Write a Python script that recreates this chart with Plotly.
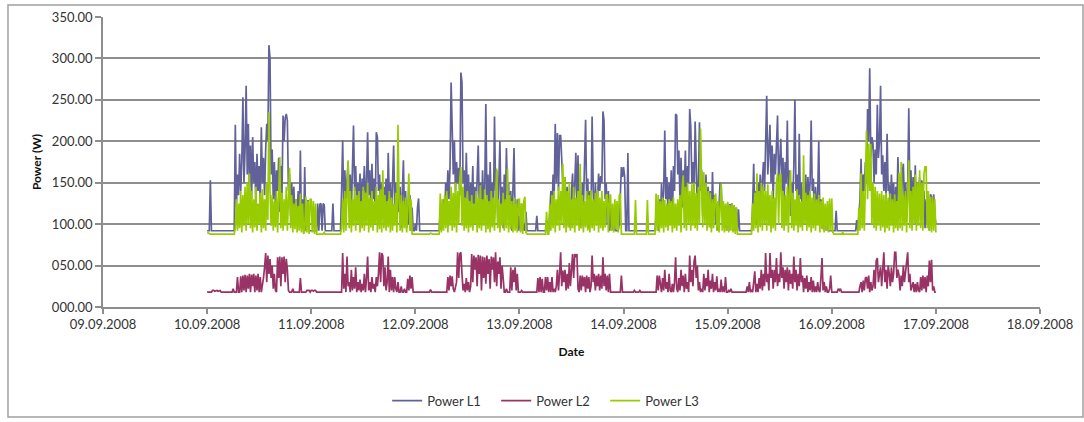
import pandas as pd
import plotly.graph_objects as go

# ---------------- data: 15-minute readings, one list per day and phase ----------------
DAY_STARTS = ["2008-09-10", "2008-09-11", "2008-09-12", "2008-09-13",
              "2008-09-14", "2008-09-15", "2008-09-16"]
SERIES_NAMES = ["Power L1", "Power L2", "Power L3"]
TICK_DATES = ["2008-09-09", "2008-09-10", "2008-09-11", "2008-09-12", "2008-09-13",
              "2008-09-14", "2008-09-15", "2008-09-16", "2008-09-17", "2008-09-18"]
Y_TICKS = [0, 50, 100, 150, 200, 250, 300, 350]

L1_D1 = [92, 92, 92, 153, 92, 92, 92, 92, 92, 92,
         92, 92, 92, 92, 92, 92, 92, 92, 92, 92,
         92, 92, 92, 92, 92, 92, 220, 120, 160, 135,
         185, 140, 175, 253, 150, 190, 267, 160, 221, 145,
         195, 130, 205, 150, 175, 120, 185, 140, 170, 125,
         217, 150, 180, 135, 190, 221, 200, 316, 300, 160,
         190, 130, 175, 120, 165, 140, 180, 115, 170, 130,
         231, 200, 228, 233, 225, 140, 160, 110, 150, 120,
         145, 100, 130, 115, 140, 105, 189, 95, 130, 92,
         169, 92, 110, 129, 92, 92]
L1_D2 = [92, 92, 92, 92, 92, 92, 125, 92, 124, 125,
         92, 125, 123, 92, 92, 92, 92, 92, 92, 92,
         125, 92, 92, 92, 92, 92, 92, 92, 140, 201,
         120, 165, 130, 150, 175, 125, 160, 115, 155, 219,
         140, 170, 120, 150, 130, 161, 110, 155, 140, 170,
         125, 150, 211, 135, 165, 120, 173, 130, 155, 115,
         211, 205, 140, 160, 120, 150, 110, 145, 125, 155,
         100, 186, 130, 150, 105, 140, 195, 120, 150, 100,
         135, 115, 145, 95, 130, 177, 110, 140, 95, 125,
         100, 135, 92, 120, 92, 92]
L1_D3 = [100, 92, 120, 131, 92, 92, 92, 92, 92, 92,
         92, 92, 92, 92, 92, 92, 92, 92, 92, 92,
         92, 92, 92, 120, 92, 110, 130, 105, 150, 125,
         165, 130, 170, 271, 201, 160, 201, 140, 175, 150,
         168, 135, 283, 271, 150, 165, 120, 186, 130, 160,
         110, 150, 125, 170, 100, 145, 115, 160, 195, 120,
         150, 100, 165, 125, 140, 245, 130, 160, 105, 175,
         120, 150, 110, 230, 140, 165, 100, 150, 200, 115,
         145, 95, 160, 120, 192, 135, 150, 100, 140, 92,
         130, 192, 110, 95, 130, 92]
L1_D4 = [110, 92, 125, 92, 100, 92, 115, 92, 92, 92,
         92, 92, 92, 92, 92, 92, 110, 92, 92, 92,
         92, 92, 92, 92, 92, 105, 92, 92, 125, 140,
         110, 160, 130, 221, 150, 210, 140, 207, 207, 180,
         150, 120, 157, 100, 145, 115, 130, 95, 140, 161,
         110, 150, 186, 125, 183, 100, 140, 95, 150, 120,
         165, 226, 130, 155, 95, 140, 110, 230, 145, 100,
         150, 120, 130, 161, 140, 158, 150, 236, 225, 130,
         150, 100, 140, 92, 120, 92, 110, 92, 100, 92,
         92, 92, 100, 150, 169, 157]
L1_D5 = [169, 157, 92, 92, 186, 92, 92, 92, 92, 92,
         92, 92, 92, 92, 92, 92, 92, 92, 92, 92,
         92, 92, 92, 92, 92, 92, 92, 92, 92, 92,
         110, 120, 92, 130, 100, 149, 120, 140, 213, 130,
         157, 110, 150, 125, 165, 100, 170, 140, 233, 231,
         160, 189, 130, 180, 120, 165, 140, 189, 125, 170,
         150, 239, 217, 150, 175, 130, 224, 160, 120, 150,
         223, 140, 165, 110, 150, 125, 160, 100, 145, 115,
         140, 95, 163, 110, 135, 100, 125, 92, 120, 150,
         148, 110, 125, 95, 122, 92]
L1_D6 = [125, 92, 124, 120, 125, 92, 122, 92, 120, 92,
         118, 92, 92, 92, 92, 92, 92, 92, 92, 92,
         92, 92, 92, 120, 173, 110, 140, 100, 150, 120,
         160, 130, 150, 175, 140, 190, 255, 160, 185, 220,
         150, 195, 130, 185, 160, 213, 231, 150, 190, 203,
         140, 180, 120, 175, 150, 225, 130, 165, 110, 150,
         125, 170, 250, 140, 160, 105, 209, 130, 150, 100,
         145, 120, 160, 110, 157, 130, 150, 225, 140, 155,
         100, 145, 120, 135, 200, 110, 130, 95, 125, 92,
         115, 92, 110, 92, 92, 92]
L1_D7 = [92, 92, 92, 92, 116, 92, 92, 92, 92, 92,
         92, 92, 92, 92, 92, 92, 92, 92, 92, 92,
         92, 92, 92, 105, 92, 110, 130, 179, 120, 160,
         140, 175, 150, 239, 200, 288, 180, 205, 197, 150,
         190, 160, 244, 180, 200, 267, 160, 183, 140, 175,
         130, 209, 140, 148, 115, 160, 125, 150, 100, 145,
         120, 181, 130, 157, 110, 160, 173, 125, 150, 105,
         145, 240, 135, 165, 110, 157, 120, 171, 100, 150,
         125, 156, 110, 153, 120, 140, 95, 130, 100, 125,
         92, 136, 133, 100, 136, 110, 100]

L2_D1 = [18, 18, 18, 18, 18, 20, 20, 19, 20, 20,
         19, 20, 20, 18, 18, 18, 18, 18, 18, 18,
         18, 18, 18, 18, 22, 18, 18, 18, 36, 18,
         18, 37, 18, 38, 20, 39, 18, 38, 22, 40,
         18, 39, 25, 40, 18, 38, 20, 40, 18, 36,
         18, 25, 35, 48, 65, 30, 62, 40, 58, 35,
         50, 22, 40, 20, 18, 60, 35, 61, 25, 60,
         40, 61, 30, 58, 45, 20, 18, 18, 18, 22,
         18, 18, 18, 18, 18, 18, 35, 18, 18, 18,
         18, 18, 20, 20, 20, 18]
L2_D2 = [20, 20, 19, 20, 20, 18, 18, 18, 18, 18,
         18, 18, 18, 18, 18, 18, 18, 18, 18, 18,
         18, 18, 18, 18, 18, 18, 18, 18, 18, 65,
         22, 40, 18, 61, 25, 30, 18, 45, 20, 36,
         22, 48, 18, 30, 20, 33, 18, 28, 20, 40,
         18, 35, 61, 20, 30, 18, 36, 22, 28, 18,
         36, 25, 40, 66, 30, 65, 62, 25, 48, 20,
         30, 61, 18, 45, 20, 36, 18, 36, 22, 18,
         30, 18, 18, 25, 18, 18, 22, 18, 18, 34,
         20, 38, 22, 36, 18, 18]
L2_D3 = [18, 18, 18, 18, 18, 18, 18, 18, 18, 18,
         18, 18, 18, 18, 21, 18, 18, 18, 18, 18,
         18, 18, 18, 18, 18, 18, 18, 18, 18, 18,
         36, 20, 38, 25, 37, 22, 18, 25, 30, 66,
         35, 64, 66, 40, 20, 28, 18, 35, 20, 30,
         18, 25, 64, 30, 62, 45, 60, 25, 63, 40,
         62, 20, 61, 35, 60, 28, 62, 40, 58, 22,
         61, 45, 60, 30, 66, 25, 55, 40, 60, 22,
         50, 35, 18, 18, 22, 18, 18, 18, 48, 20,
         45, 30, 48, 20, 40, 18]
L2_D4 = [18, 18, 20, 18, 18, 18, 18, 18, 18, 18,
         18, 18, 18, 18, 18, 18, 18, 35, 18, 36,
         18, 34, 18, 18, 36, 20, 36, 18, 30, 18,
         36, 18, 22, 18, 25, 45, 20, 40, 66, 25,
         44, 30, 45, 20, 40, 22, 53, 25, 50, 64,
         35, 64, 60, 64, 22, 18, 38, 20, 38, 25,
         36, 18, 38, 22, 36, 18, 25, 62, 30, 40,
         20, 38, 25, 40, 20, 38, 22, 60, 25, 40,
         20, 38, 18, 40, 18, 18, 18, 18, 18, 18,
         18, 18, 18, 18, 38, 18]
L2_D5 = [18, 18, 18, 18, 18, 18, 18, 18, 18, 18,
         20, 18, 18, 18, 18, 20, 18, 18, 18, 18,
         18, 18, 18, 18, 18, 18, 18, 18, 18, 18,
         18, 38, 20, 38, 25, 18, 35, 20, 45, 22,
         30, 18, 40, 20, 18, 28, 18, 30, 60, 22,
         18, 35, 20, 45, 25, 38, 18, 40, 22, 30,
         18, 62, 30, 45, 25, 55, 62, 35, 50, 20,
         30, 18, 22, 18, 40, 20, 35, 25, 45, 18,
         32, 22, 40, 18, 30, 20, 37, 18, 22, 18,
         33, 18, 25, 18, 36, 18]
L2_D6 = [18, 20, 18, 22, 18, 18, 18, 18, 18, 18,
         18, 18, 18, 18, 18, 18, 18, 18, 25, 18,
         30, 18, 20, 18, 30, 43, 18, 28, 18, 35,
         22, 45, 20, 40, 25, 65, 30, 40, 20, 65,
         35, 45, 22, 45, 30, 59, 25, 40, 30, 66,
         35, 48, 22, 45, 30, 48, 20, 45, 28, 40,
         22, 61, 30, 45, 20, 40, 25, 59, 30, 38,
         18, 35, 22, 38, 18, 30, 20, 36, 18, 32,
         18, 25, 18, 30, 20, 18, 35, 59, 20, 30,
         18, 25, 18, 18, 22, 38]
L2_D7 = [18, 18, 18, 18, 18, 18, 22, 20, 22, 18,
         18, 18, 18, 18, 18, 18, 18, 18, 18, 18,
         18, 18, 18, 18, 18, 18, 25, 30, 18, 32,
         20, 35, 36, 22, 38, 18, 30, 20, 25, 45,
         22, 56, 59, 30, 40, 48, 25, 45, 66, 30,
         45, 22, 50, 40, 25, 48, 30, 40, 66, 66,
         35, 45, 38, 20, 38, 25, 50, 30, 45, 52,
         66, 30, 40, 20, 25, 30, 18, 28, 18, 30,
         20, 18, 36, 20, 38, 22, 36, 18, 38, 25,
         56, 30, 57, 20, 25, 18, 18]

L3_D1 = [90, 89, 88, 88, 88, 88, 88, 88, 88, 88,
         88, 88, 88, 88, 88, 88, 88, 88, 88, 88,
         88, 88, 88, 88, 88, 88, 95, 130, 92, 125,
         95, 140, 90, 135, 98, 145, 92, 150, 100, 161,
         95, 140, 90, 130, 96, 145, 92, 125, 100, 138,
         90, 142, 95, 130, 92, 150, 105, 235, 140, 98,
         135, 92, 128, 96, 140, 90, 132, 181, 95, 138,
         92, 130, 98, 145, 92, 128, 168, 95, 135, 90,
         125, 94, 130, 90, 122, 92, 137, 90, 125, 88,
         92, 133, 90, 128, 88, 130]
L3_D2 = [130, 90, 128, 88, 125, 88, 88, 88, 88, 88,
         88, 88, 90, 88, 88, 88, 88, 88, 88, 88,
         88, 88, 88, 88, 88, 88, 88, 88, 95, 130,
         90, 140, 92, 135, 177, 95, 140, 90, 130, 98,
         145, 92, 135, 100, 140, 90, 128, 95, 145, 92,
         138, 98, 150, 90, 132, 96, 140, 92, 128, 100,
         145, 90, 135, 94, 142, 90, 165, 95, 135, 92,
         128, 96, 140, 90, 132, 92, 125, 98, 138, 90,
         220, 130, 92, 135, 90, 128, 95, 132, 90, 125,
         161, 92, 130, 88, 88, 88]
L3_D3 = [88, 88, 88, 88, 88, 88, 88, 88, 88, 88,
         88, 88, 88, 88, 89, 88, 88, 88, 88, 88,
         88, 88, 88, 137, 90, 130, 92, 135, 95, 140,
         90, 128, 98, 145, 92, 138, 96, 150, 90, 140,
         100, 155, 169, 98, 145, 92, 132, 95, 140, 90,
         128, 96, 135, 92, 125, 100, 140, 90, 132, 95,
         147, 92, 130, 98, 142, 90, 135, 94, 128, 90,
         140, 96, 132, 92, 138, 167, 95, 130, 90, 125,
         98, 138, 92, 130, 95, 167, 90, 135, 94, 128,
         90, 132, 92, 125, 90, 130]
L3_D4 = [130, 90, 125, 88, 128, 133, 90, 88, 88, 88,
         88, 88, 88, 88, 88, 88, 88, 88, 88, 88,
         88, 88, 88, 88, 88, 115, 88, 88, 125, 92,
         135, 95, 140, 90, 130, 98, 145, 92, 140, 100,
         173, 95, 157, 90, 140, 96, 150, 92, 130, 95,
         145, 90, 132, 98, 140, 92, 173, 95, 135, 90,
         128, 96, 140, 92, 135, 90, 141, 95, 130, 92,
         138, 98, 141, 90, 132, 95, 140, 92, 128, 96,
         135, 136, 90, 130, 136, 92, 125, 90, 130, 94,
         128, 90, 135, 137, 88, 88]
L3_D5 = [88, 88, 88, 88, 88, 88, 88, 88, 88, 88,
         88, 129, 88, 88, 88, 88, 88, 88, 88, 88,
         88, 88, 129, 88, 88, 88, 88, 88, 88, 88,
         137, 92, 135, 90, 128, 95, 132, 90, 129, 96,
         125, 92, 130, 98, 128, 90, 132, 95, 125, 92,
         130, 98, 135, 90, 140, 159, 95, 145, 92, 150,
         100, 140, 92, 148, 98, 150, 95, 138, 92, 145,
         100, 215, 150, 96, 163, 100, 150, 92, 140, 96,
         138, 90, 130, 95, 132, 137, 92, 128, 90, 129,
         149, 92, 128, 90, 125, 92]
L3_D6 = [127, 90, 123, 92, 125, 90, 123, 88, 120, 88,
         88, 88, 88, 88, 88, 88, 88, 88, 88, 88,
         88, 88, 88, 125, 92, 138, 95, 161, 90, 140,
         96, 150, 92, 145, 100, 140, 92, 148, 98, 135,
         90, 140, 95, 132, 92, 150, 161, 100, 158, 161,
         95, 140, 92, 135, 98, 145, 90, 140, 165, 95,
         138, 92, 130, 98, 142, 90, 135, 96, 128, 92,
         183, 100, 138, 92, 135, 96, 140, 90, 132, 95,
         137, 92, 130, 98, 135, 90, 128, 94, 132, 90,
         125, 92, 128, 90, 131, 92]
L3_D7 = [131, 90, 88, 88, 88, 88, 88, 88, 88, 88,
         90, 88, 88, 88, 88, 88, 88, 88, 88, 88,
         88, 88, 88, 88, 88, 120, 92, 161, 95, 140,
         92, 150, 213, 130, 197, 140, 197, 100, 150, 95,
         145, 92, 140, 98, 137, 92, 140, 96, 135, 90,
         138, 95, 132, 92, 137, 98, 130, 90, 136, 95,
         128, 92, 162, 95, 175, 92, 135, 98, 140, 90,
         135, 177, 95, 140, 92, 145, 100, 160, 92, 150,
         98, 165, 95, 150, 92, 160, 169, 169, 95, 140,
         92, 133, 90, 133, 92, 130, 90]

L1_DAYS = [L1_D1, L1_D2, L1_D3, L1_D4, L1_D5, L1_D6, L1_D7]
L2_DAYS = [L2_D1, L2_D2, L2_D3, L2_D4, L2_D5, L2_D6, L2_D7]
L3_DAYS = [L3_D1, L3_D2, L3_D3, L3_D4, L3_D5, L3_D6, L3_D7]
COLORS = ["#62629a", "#993366", "#99CC00"]
WIDTHS = [1.7, 1.7, 1.7]


def build(days):
    xs, ys = [], []
    for start, vals in zip(DAY_STARTS, days):
        t = pd.date_range(start, periods=len(vals), freq="15min")
        xs.extend(t)
        ys.extend(vals)
    return xs, ys


FONT = "Lato, 'Open Sans', sans-serif"
TXT = "#333333"
GRID = "#8e8e8e"

fig = go.Figure()
for name, days, col, w in zip(SERIES_NAMES, [L1_DAYS, L2_DAYS, L3_DAYS], COLORS, WIDTHS):
    x, y = build(days)
    fig.add_trace(go.Scatter(x=x, y=y, mode="lines", name=name,
                             line=dict(color=col, width=w)))

fig.update_layout(
    width=1084, height=422,
    autosize=False,
    margin=dict(l=103, r=44, t=17, b=115, autoexpand=False),
    paper_bgcolor="white", plot_bgcolor="white",
    font=dict(family=FONT, size=13, color=TXT),
    showlegend=True,
    legend=dict(orientation="h", xref="container", yref="container",
                x=0.508, xanchor="center",
                y=0.0505, yanchor="middle",
                font=dict(family=FONT, size=13, color=TXT),
                itemwidth=30, entrywidth=64, bgcolor="rgba(0,0,0,0)"),
    xaxis=dict(
        type="date",
        range=[TICK_DATES[0], TICK_DATES[-1]],
        tickvals=TICK_DATES,
        tickformat="%d.%m.%Y",
        showgrid=False, zeroline=False, automargin=False,
        showline=True, linecolor=GRID, linewidth=1.5,
        ticks="outside", ticklen=5, tickcolor=GRID, tickwidth=1.5,
        tickfont=dict(family=FONT, size=13, color=TXT),
        title=dict(text="<b>Date</b>", standoff=16,
                   font=dict(family=FONT, size=12, color="#111111")),
    ),
    yaxis=dict(
        range=[0, 350],
        tickvals=Y_TICKS,
        tickformat="06.2f",
        showgrid=True, gridcolor=GRID, gridwidth=1.5,
        zeroline=False, automargin=False,
        showline=True, linecolor=GRID, linewidth=1.5,
        ticks="outside", ticklen=6, tickcolor=GRID, tickwidth=1.5,
        tickfont=dict(family=FONT, size=13, color=TXT),
        title=dict(text="<b>Power (W)</b>", standoff=8,
                   font=dict(family=FONT, size=12, color="#111111")),
    ),
    shapes=[dict(type="rect", xref="paper", yref="paper",
                 x0=-0.1014, x1=1.0459, y0=-0.379, y1=1.0414,
                 line=dict(color="#a0a0a0", width=1.5),
                 fillcolor="rgba(0,0,0,0)", layer="below")],
)

fig.write_html("out.html")
